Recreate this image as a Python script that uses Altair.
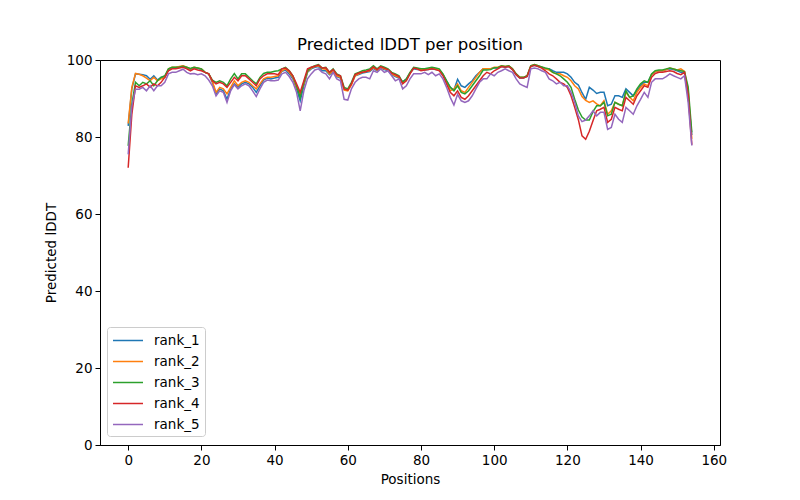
import altair as alt
import pandas as pd

positions = list(range(155))

rank_1 = [82.9, 92.5, 96.4, 96.3, 96.2, 95.9, 95.0, 95.9, 94.8, 95.5,
          95.5, 97.5, 98.0, 98.0, 98.2, 98.4, 98.0, 97.6, 98.0, 97.8,
          97.6, 96.8, 96.4, 94.2, 91.2, 92.5, 92.0, 89.8, 92.5, 93.8,
          92.9, 93.8, 94.2, 93.8, 92.9, 91.6, 93.3, 94.8, 95.3, 95.1,
          95.3, 95.5, 97.1, 97.4, 96.4, 95.1, 92.5, 89.4, 93.3, 96.8,
          97.7, 98.1, 98.3, 97.2, 97.2, 96.2, 97.0, 95.7, 95.3, 92.5,
          92.2, 93.8, 95.9, 96.2, 96.6, 96.8, 97.0, 97.8, 97.2, 97.9,
          97.5, 97.2, 96.2, 95.7, 95.3, 94.4, 95.0, 96.6, 97.7, 97.5,
          97.4, 97.4, 97.5, 97.7, 97.5, 97.4, 96.2, 94.6, 92.9, 92.2,
          95.0, 93.3, 92.9, 93.8, 94.6, 95.9, 96.8, 97.7, 97.7, 97.7,
          97.9, 97.9, 98.3, 98.1, 98.3, 97.5, 96.2, 95.3, 95.3, 95.7,
          98.3, 98.6, 98.3, 98.1, 97.7, 97.7, 97.2, 96.8, 96.8, 96.8,
          96.4, 95.5, 94.2, 93.5, 91.5, 89.8, 92.9, 92.2, 91.3, 91.6,
          91.6, 88.1, 88.5, 90.7, 90.7, 90.3, 92.5, 91.6, 90.7, 92.0,
          93.3, 94.2, 94.2, 96.2, 97.0, 97.2, 97.2, 97.5, 97.7, 97.5,
          97.2, 96.8, 96.5, 90.5, 80.5]

rank_2 = [83.5, 92.9, 96.5, 96.3, 95.9, 95.3, 94.6, 95.5, 94.6, 95.1,
          95.5, 97.7, 98.1, 98.1, 98.3, 98.5, 98.1, 97.7, 98.1, 97.9,
          97.7, 96.8, 96.4, 94.4, 91.6, 92.9, 92.5, 91.2, 92.9, 94.6,
          93.3, 94.2, 94.6, 94.2, 93.3, 92.5, 93.8, 95.1, 95.5, 95.5,
          95.7, 95.9, 97.2, 97.7, 96.8, 95.5, 92.9, 91.2, 93.8, 97.0,
          97.9, 98.3, 98.5, 97.7, 97.6, 96.4, 97.2, 95.9, 95.5, 92.2,
          92.0, 93.5, 95.9, 96.4, 96.8, 97.0, 97.2, 98.0, 97.4, 98.1,
          97.7, 97.4, 96.4, 95.9, 95.5, 94.0, 94.8, 96.6, 97.9, 97.7,
          97.5, 97.5, 97.7, 97.9, 97.7, 97.4, 96.2, 94.4, 92.0, 92.5,
          93.8, 92.0, 91.6, 92.9, 94.2, 95.5, 96.8, 97.7, 97.7, 97.7,
          98.1, 98.1, 98.5, 98.3, 98.5, 97.7, 96.4, 95.5, 95.5, 95.9,
          98.5, 98.8, 98.5, 98.1, 97.7, 97.4, 96.8, 96.4, 96.4, 95.9,
          95.5, 94.6, 93.3, 92.5, 90.5, 89.5, 89.0, 89.4, 88.6, 88.1,
          89.4, 85.9, 86.8, 89.0, 88.5, 88.1, 91.6, 90.3, 89.4, 91.6,
          92.9, 93.8, 93.3, 96.2, 97.0, 97.2, 97.2, 97.5, 97.9, 97.7,
          97.4, 97.7, 97.0, 92.0, 79.5]

rank_3 = [77.7, 88.5, 94.2, 93.3, 94.2, 93.8, 94.6, 93.3, 94.6, 95.5,
          95.9, 97.7, 98.1, 98.1, 98.2, 98.4, 98.1, 97.8, 98.1, 97.9,
          97.7, 96.8, 96.4, 94.8, 94.2, 94.6, 94.2, 93.3, 95.1, 96.5,
          95.1, 96.4, 96.4, 95.5, 94.6, 93.8, 95.5, 96.5, 96.8, 96.8,
          97.1, 97.2, 97.7, 98.1, 97.2, 95.9, 93.3, 90.3, 94.2, 97.2,
          98.1, 98.5, 98.8, 97.9, 98.1, 96.8, 97.7, 96.4, 95.9, 92.9,
          92.5, 94.2, 96.4, 96.8, 97.2, 97.4, 97.7, 98.5, 97.7, 98.5,
          98.1, 97.7, 96.8, 96.4, 95.9, 94.2, 95.1, 96.8, 98.1, 97.9,
          97.7, 97.7, 97.9, 98.1, 97.9, 97.7, 96.4, 94.6, 92.9, 92.0,
          93.3, 91.6, 91.2, 92.0, 93.3, 94.6, 95.9, 97.4, 97.4, 97.5,
          98.0, 98.0, 98.5, 98.3, 98.5, 97.7, 96.4, 95.5, 95.5, 95.9,
          98.5, 98.8, 98.5, 98.2, 97.9, 97.7, 96.8, 96.4, 95.9, 95.1,
          94.2, 92.9, 89.8, 87.0, 85.2, 84.4, 84.4, 86.6, 88.1, 88.1,
          89.0, 85.5, 85.9, 89.0, 88.5, 88.1, 92.0, 90.3, 90.7, 92.5,
          93.8, 94.6, 94.2, 96.4, 97.2, 97.4, 97.4, 97.7, 97.9, 97.7,
          97.4, 97.2, 97.0, 93.0, 81.2]

rank_4 = [72.0, 85.9, 93.3, 92.9, 93.3, 93.8, 92.9, 93.8, 93.3, 94.2,
          95.5, 97.2, 97.7, 97.7, 97.9, 98.1, 97.7, 97.2, 97.7, 97.4,
          97.2, 96.8, 96.4, 94.6, 93.8, 94.2, 93.8, 92.9, 94.2, 95.5,
          94.6, 95.9, 95.9, 95.1, 94.2, 93.3, 95.1, 95.9, 96.4, 96.4,
          96.4, 96.2, 97.7, 97.9, 97.2, 95.9, 93.8, 91.6, 94.6, 97.7,
          98.1, 98.4, 98.7, 97.9, 98.0, 96.8, 97.5, 96.2, 95.9, 92.5,
          92.2, 93.8, 96.2, 96.6, 96.8, 97.0, 97.4, 98.2, 97.5, 98.3,
          97.9, 97.5, 96.6, 96.2, 95.7, 93.8, 94.6, 96.4, 97.9, 97.7,
          97.2, 97.4, 97.5, 97.7, 97.5, 97.2, 95.9, 93.8, 91.6, 90.7,
          92.0, 90.3, 89.8, 90.7, 92.0, 93.3, 94.6, 95.9, 96.8, 96.4,
          97.2, 97.7, 98.3, 98.1, 98.3, 97.5, 96.2, 95.3, 95.3, 95.7,
          98.3, 98.6, 98.3, 97.9, 97.2, 96.4, 95.9, 95.1, 94.2, 93.8,
          92.9, 90.7, 87.7, 84.5, 80.3, 79.4, 81.5, 84.2, 86.8, 87.2,
          87.7, 83.8, 84.6, 87.7, 87.2, 86.8, 90.3, 89.4, 88.5, 90.7,
          92.0, 93.3, 92.9, 95.5, 96.5, 96.8, 96.8, 97.0, 97.2, 97.0,
          96.5, 96.2, 96.8, 91.0, 78.0]

rank_5 = [75.5, 88.0, 92.4, 92.4, 92.9, 92.0, 93.3, 92.0, 93.3, 93.3,
          94.2, 96.4, 96.8, 96.8, 97.2, 97.6, 96.8, 96.4, 96.5, 96.2,
          96.4, 95.9, 94.8, 93.3, 90.7, 92.0, 91.6, 89.0, 92.0, 93.6,
          92.5, 93.3, 93.8, 93.3, 92.0, 90.5, 92.5, 94.2, 94.8, 94.6,
          94.6, 94.8, 96.4, 96.8, 95.7, 94.2, 91.6, 86.8, 92.0, 95.1,
          96.4, 97.4, 97.7, 96.8, 96.4, 95.1, 96.8, 95.1, 94.6, 89.8,
          89.6, 92.5, 94.2, 95.1, 95.5, 95.5, 95.1, 97.2, 96.8, 97.7,
          96.8, 97.2, 95.9, 94.6, 95.1, 92.5, 93.3, 95.1, 96.4, 96.4,
          96.4, 96.8, 96.2, 96.8, 95.9, 96.4, 95.1, 92.9, 90.3, 88.3,
          91.1, 89.4, 89.0, 89.4, 90.7, 92.5, 94.2, 95.1, 95.1, 96.4,
          95.9, 96.8, 97.2, 97.7, 97.2, 96.8, 95.1, 93.8, 93.3, 92.9,
          97.7, 97.9, 97.7, 97.2, 96.8, 95.1, 94.6, 93.8, 94.2, 93.3,
          93.3, 91.6, 89.0, 85.5, 84.0, 84.4, 85.5, 86.8, 85.5, 86.4,
          86.4, 82.0, 82.5, 85.9, 84.6, 83.8, 87.7, 86.8, 85.9, 88.1,
          89.8, 91.6, 90.3, 94.2, 95.1, 95.1, 95.1, 95.7, 96.4, 95.9,
          95.5, 95.1, 95.9, 89.0, 77.8]

series_names = ["rank_1", "rank_2", "rank_3", "rank_4", "rank_5"]
series_values = [rank_1, rank_2, rank_3, rank_4, rank_5]
colors = ["#1f77b4", "#ff7f0e", "#2ca02c", "#d62728", "#9467bd"]
x_ticks = [0, 20, 40, 60, 80, 100, 120, 140, 160]
y_ticks = [0, 20, 40, 60, 80, 100]

rows = []
for name, vals in zip(series_names, series_values):
    for p, v in zip(positions, vals):
        rows.append({"Position": p, "lDDT": v, "Model": name})
df = pd.DataFrame(rows)

FONT = "DejaVu Sans"

chart = alt.Chart(df).mark_line(strokeWidth=1.5, clip=True).encode(
    x=alt.X("Position:Q",
            scale=alt.Scale(domain=[-7.7, 161.7], nice=False, zero=False),
            axis=alt.Axis(values=x_ticks, title="Positions", format="d", grid=False,
                          titlePadding=6)),
    y=alt.Y("lDDT:Q",
            scale=alt.Scale(domain=[0, 100], nice=False),
            axis=alt.Axis(values=y_ticks, title="Predicted lDDT", format="d", grid=False,
                          titlePadding=8)),
    color=alt.Color("Model:N",
                    scale=alt.Scale(domain=series_names, range=colors),
                    legend=alt.Legend(title=None, orient="none", legendX=7, legendY=267,
                                      symbolType="M-1,0H3", symbolSize=225,
                                      symbolStrokeWidth=1.5, labelOffset=25,
                                      labelFontSize=13.5, labelFont=FONT, labelColor="black",
                                      fillColor="white", strokeColor="#cccccc",
                                      cornerRadius=3, padding=5, rowPadding=6,
                                      offset=0)),
    order=alt.Order("Position:Q"),
).properties(
    width=620, height=385,
    background="white",
    title=alt.TitleParams("Predicted lDDT per position", fontSize=16.5, font=FONT,
                          fontWeight="normal", color="black", offset=0),
    autosize=alt.AutoSizeParams(type="none"),
    padding={"left": 92, "top": 52, "right": 72, "bottom": 47},
).configure_view(
    stroke="black", strokeWidth=1
).configure_axis(
    grid=False, domainColor="black", domainWidth=1, tickColor="black", tickSize=5,
    tickWidth=1, labelFont=FONT, labelFontSize=13.5, labelColor="black", labelPadding=3,
    titleFont=FONT, titleFontSize=13.5, titleFontWeight="normal", titleColor="black",
    titlePadding=5
)

chart.save("out.html", embed_options={"renderer": "svg", "actions": False})
